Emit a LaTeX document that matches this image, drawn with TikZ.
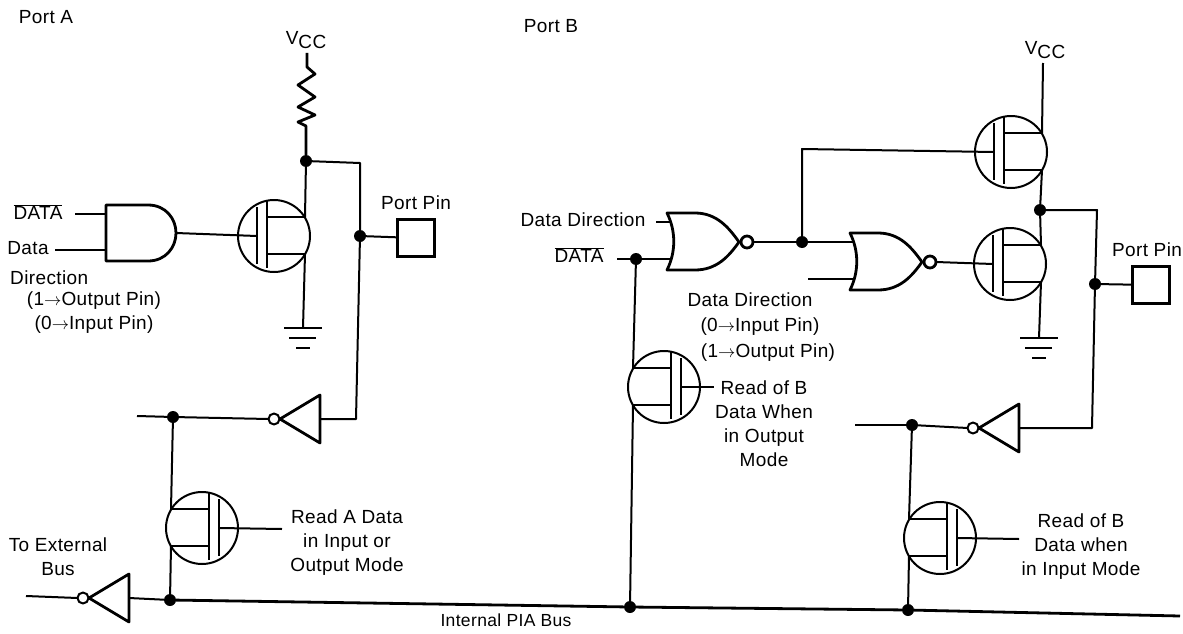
\documentclass[tikz,border=0pt]{standalone}
\usepackage{fontspec}
\setmainfont[LetterSpace=2]{Liberation Sans}
\newcommand{\pinarrow}{\raisebox{0.5pt}{$\rightarrow$}}
\newcommand{\vcclabel}{V\raisebox{-4pt}{CC}}
\newcommand{\databar}{$\overline{\mbox{DATA}}$}
\tikzset{
  wire/.style={line width=2pt, line join=round},
  heavy/.style={line width=2.8pt, line join=round},
  junction/.style={circle, fill=black, inner sep=0pt, minimum size=12pt},
  pinbox/.style={draw, line width=2.6pt, inner sep=0pt, minimum width=37pt, minimum height=37pt},
  lab/.style={font=\fontsize{19}{24}\selectfont, align=center, inner sep=0pt},
  fet/.pic={
    \draw [wire] (0,0) circle (36pt);
    \draw [heavy] (-17,-29) -- (-17,28);
    \draw [heavy] (-7,-36) -- (-7,32);
    \draw [heavy] (-7,-19) -- (31,-19);
    \draw [heavy] (-7,18) -- (31,18);
    \coordinate (-g) at (-17,0);
    \coordinate (-d) at (31,-19);
    \coordinate (-s) at (31,18);
  },
  andgate/.pic={
    \draw [heavy] (0,-28) -- (42,-28) .. controls (60,-28) and (70,-14) .. (70,0)
      .. controls (70,14) and (60,28) .. (42,28) -- (0,28) -- cycle;
    \coordinate (-a) at (0,-19);
    \coordinate (-b) at (0,17);
    \coordinate (-o) at (70,0);
  },
  norgate/.pic={
    \draw [heavy] (0,-29) -- (28,-29) .. controls (50,-29) and (62,-14) .. (72,0)
      .. controls (62,14) and (50,28) .. (28,28) -- (0,28)
      .. controls (9,10) and (9,-11) .. (0,-29) -- cycle;
    \draw [heavy] (80,0) circle (6pt);
    \coordinate (-a) at (5,-20);
    \coordinate (-b) at (5,17);
    \coordinate (-o) at (86,0);
  },
  invgate/.pic={
    \draw [heavy] (0,-24) -- (-40,0) -- (0,24) -- cycle;
    \draw [wire] (-46,0) circle (5.5pt);
    \coordinate (-i) at (0,0);
    \coordinate (-o) at (-51.5,0);
  },
  groundsym/.pic={
    \draw [heavy] (-19,0) -- (19,0);
    \draw [heavy] (-14,10) -- (13,10);
    \draw [heavy] (-7,20) -- (7,20);
    \coordinate (-t) at (0,0);
  }
}
\begin{document}
\begin{tikzpicture}[x=1pt, y=-1pt]
    \useasboundingbox (0,0) rectangle (1183,634);
    \node[lab] (porta) at (46,17) {Port A};
    \node[lab] (portb) at (551,26) {Port B};
    \node[lab] (vcca) at (306,40) {\vcclabel};
    \node[lab] (vccb) at (1045,50) {\vcclabel};
    \node[lab] (pinlaba) at (416,203) {Port Pin};
    \node[lab] (pinlabb) at (1147,250) {Port Pin};
    \node[lab] (dataa) at (38,212) {\databar};
    \node[lab] (dira) at (28,248) {Data};
    \node[lab, anchor=west] (dirb) at (10,278) {Direction};
    \node[lab] (moda) at (94,301) {(1\pinarrow Output Pin)};
    \node[lab] (modb) at (94,325) {(0\pinarrow Input Pin)};
    \node[lab] (dirc) at (583,220) {Data Direction};
    \node[lab] (datab) at (579,255) {\databar};
    \node[lab] (dird) at (750,300) {Data Direction};
    \node[lab] (modc) at (760,327) {(0\pinarrow Input Pin)};
    \node[lab] (modd) at (768,353) {(1\pinarrow Output Pin)};
    \node[lab] (readb) at (764,424) {Read of B\\Data When\\in Output\\Mode};
    \node[lab] (readc) at (1081,547) {Read of B\\Data when\\in Input Mode};
    \node[lab] (reada) at (347,543) {Read A Data\\in Input or\\Output Mode};
    \node[lab] (ext) at (58,557) {To External\\Bus};
    \node[lab, font=\fontsize{17.5}{24}\selectfont] (pia) at (506,620) {Internal PIA Bus};

    \pic (fa) at (274,236) {fet};
    \pic[xscale=-1] (fb) at (202,528) {fet};
    \pic (fc) at (1011,152) {fet};
    \pic (fd) at (1010,264) {fet};
    \pic[xscale=-1] (fe) at (664,387) {fet};
    \pic[xscale=-1] (ff) at (940,538) {fet};
    \pic (anda) at (106,233) {andgate};
    \pic (nora) at (667,242) {norgate};
    \pic (norb) at (850,262) {norgate};
    \pic (inva) at (320,419) {invgate};
    \pic (invb) at (129,598) {invgate};
    \pic (invc) at (1019,428) {invgate};
    \pic (gnda) at (303,328) {groundsym};
    \pic (gndb) at (1039,338) {groundsym};

    \node[pinbox] (boxa) at (416,238) {};
    \node[pinbox] (boxb) at (1151,285) {};
    \node[junction] (ja) at (306,161) {};
    \node[junction] (jb) at (360,236) {};
    \node[junction] (jc) at (173,417) {};
    \node[junction] (jd) at (170,600) {};
    \node[junction] (je) at (636,259) {};
    \node[junction] (jf) at (802,242) {};
    \node[junction] (jg) at (1040,210) {};
    \node[junction] (jh) at (1095,284) {};
    \node[junction] (ji) at (912,425) {};
    \node[junction] (jj) at (630,607) {};
    \node[junction] (jk) at (908,610) {};

    \coordinate (vtopa) at (307,53);
    \coordinate (vtopb) at (1043,63);
    \coordinate (cora) at (360,163);
    \coordinate (corb) at (356,419);
    \coordinate (cor) at (802,149);
    \coordinate (corc) at (1097,210);
    \coordinate (cord) at (1092,428);
    \coordinate (ina) at (75,214);
    \coordinate (inb) at (55,250);
    \coordinate (inc) at (656,222);
    \coordinate (ind) at (617,259);
    \coordinate (ine) at (808,279);
    \coordinate (outa) at (137,416);
    \coordinate (outb) at (26,596);
    \coordinate (outc) at (855,425);
    \coordinate (rda) at (282,529);
    \coordinate (rdb) at (714,387);
    \coordinate (rdc) at (1019,539);
    \coordinate (busend) at (1180,616);

    \draw [heavy] (vtopa) -- (307,67) -- (315,74) -- (298,85) -- (315,97) -- (298,107) -- (315,115) -- (298,122) -- (306,126) -- (ja);
    \draw [wire] (ja) -- (fa-d);
    \draw [wire] (fa-s) -- (gnda-t);
    \draw [wire] (ja) -- (cora) -- (jb);
    \draw [wire] (jb) -- (corb) -- (inva-i);
    \draw [wire] (jb) -- (boxa);
    \draw [wire] (ina) -- (anda-a);
    \draw [wire] (inb) -- (anda-b);
    \draw [wire] (anda-o) -- (fa-g);
    \draw [wire] (outa) -- (jc);
    \draw [wire] (jc) -- (inva-o);
    \draw [wire] (jc) -- (fb-d);
    \draw [wire] (fb-s) -- (jd);
    \draw [wire] (fb-g) -- (rda);
    \draw [wire] (outb) -- (invb-o);
    \draw [wire] (invb-i) -- (jd);
    \draw [heavy] (jd) -- (jj);
    \draw [heavy] (jj) -- (jk);
    \draw [heavy] (jk) -- (busend);
    \draw [wire] (inc) -- (nora-a);
    \draw [wire] (ind) -- (je);
    \draw [wire] (je) -- (nora-b);
    \draw [wire] (nora-o) -- (jf);
    \draw [wire] (jf) -- (norb-a);
    \draw [wire] (jf) -- (cor) -- (fc-g);
    \draw [wire] (ine) -- (norb-b);
    \draw [wire] (norb-o) -- (fd-g);
    \draw [wire] (vtopb) -- (fc-d);
    \draw [wire] (fc-s) -- (jg);
    \draw [wire] (jg) -- (fd-d);
    \draw [wire] (fd-s) -- (gndb-t);
    \draw [wire] (jg) -- (corc) -- (jh);
    \draw [wire] (jh) -- (cord) -- (invc-i);
    \draw [wire] (jh) -- (boxb);
    \draw [wire] (outc) -- (ji);
    \draw [wire] (ji) -- (invc-o);
    \draw [wire] (ji) -- (ff-d);
    \draw [wire] (ff-s) -- (jk);
    \draw [wire] (ff-g) -- (rdc);
    \draw [wire] (je) -- (fe-d);
    \draw [wire] (fe-s) -- (jj);
    \draw [wire] (fe-g) -- (rdb);
\end{tikzpicture}
\end{document}
